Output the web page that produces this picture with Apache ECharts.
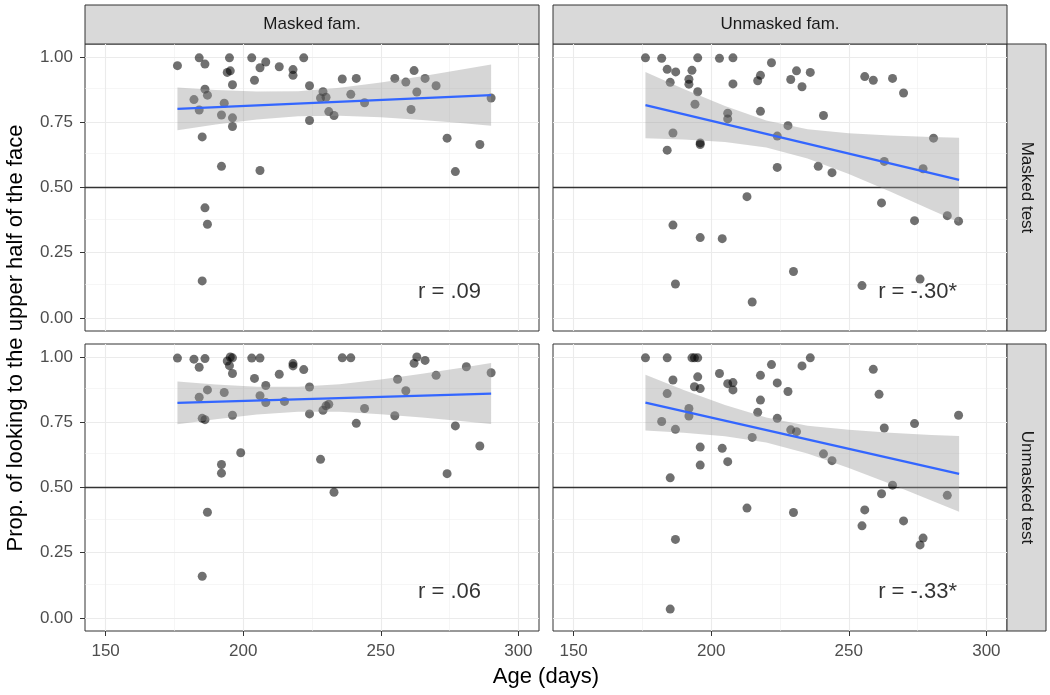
<!DOCTYPE html>
<html><head><meta charset="utf-8">
<script src="https://cdn.jsdelivr.net/npm/echarts@6/dist/echarts.min.js"></script>
<style>html,body{margin:0;padding:0;background:#fff}#c{width:1050px;height:695px}</style>
</head><body><div id="c"></div>
<script>
// ---- facets / axes ----
const colFacets = ['Masked fam.', 'Unmasked fam.'];
const rowFacets = ['Masked test', 'Unmasked test'];
const xTicks = [150, 200, 250, 300];
const xMinor = [175, 225, 275];
const yTicks = [0, 0.25, 0.5, 0.75, 1];
const yMinor = [0.125, 0.375, 0.625, 0.875];
const refLine = 0.5;
const xTitle = 'Age (days)';
const yTitle = 'Prop. of looking to the upper half of the face';
const rLabels = ['r = .09', 'r = -.30*', 'r = .06', 'r = -.33*'];

// ---- panel 1: Masked fam. / Masked test ----
const mfMtAge = [176.1,184.0,186.1,195.0,194.2,195.3,196.1,186.1,187.0,182.1,184.0,193.1,192.1,196.1,196.1,185.1,192.1,206.1,186.1,187.0,185.1,203.1,208.2,206.1,204.1,213.1,218.1,218.1,222.0,224.1,224.1,229.0,228.1,230.1,231.1,233.0,236.0,239.1,241.1,244.1,255.1,259.1,262.1,263.1,261.0,266.1,270.1,274.1,277.1,286.0,290.1];
const mfMtProp = [0.967,0.997,0.973,0.997,0.941,0.947,0.894,0.877,0.854,0.837,0.797,0.823,0.778,0.767,0.734,0.694,0.581,0.565,0.422,0.359,0.142,0.997,0.981,0.959,0.911,0.963,0.952,0.930,0.997,0.890,0.757,0.867,0.843,0.846,0.791,0.776,0.916,0.857,0.918,0.825,0.918,0.904,0.948,0.866,0.799,0.918,0.890,0.689,0.561,0.665,0.843];
// ---- panel 2: Unmasked fam. / Masked test ----
const ufMtAge = [176.1,182.0,184.0,187.1,185.1,195.1,193.0,191.9,191.9,195.1,194.1,186.1,196.0,196.0,184.0,203.0,207.9,207.9,206.0,206.0,221.9,217.9,216.9,217.9,231.0,236.0,228.9,233.0,240.8,227.9,224.0,224.0,238.9,243.9,213.0,186.1,196.0,204.0,229.9,187.0,214.9,255.8,258.9,265.9,269.9,262.9,261.9,277.0,280.8,273.9,285.8,289.9,254.8,275.9];
const ufMtProp = [0.997,0.995,0.953,0.943,0.903,0.997,0.949,0.915,0.896,0.867,0.819,0.709,0.671,0.665,0.643,0.995,0.997,0.897,0.785,0.763,0.978,0.930,0.909,0.792,0.947,0.941,0.914,0.886,0.776,0.737,0.697,0.577,0.581,0.557,0.465,0.356,0.308,0.304,0.178,0.130,0.061,0.925,0.911,0.918,0.862,0.600,0.441,0.572,0.689,0.373,0.392,0.371,0.124,0.149];
// ---- panel 3: Masked fam. / Unmasked test ----
const mfUtAge = [176.1,182.1,186.1,184.0,194.2,195.3,196.1,195.0,196.1,203.1,206.1,204.1,208.2,213.1,218.1,218.1,222.0,224.1,184.0,187.0,193.1,206.1,208.2,215.0,185.1,186.1,196.1,224.1,229.0,231.1,230.1,236.0,239.1,244.1,241.1,228.1,233.0,199.1,192.1,192.1,187.0,185.1,263.1,262.1,266.1,256.1,259.1,270.1,281.1,290.1,255.1,277.1,286.0,274.1];
const mfUtProp = [0.996,0.992,0.994,0.961,0.985,1.0,0.997,0.967,0.937,0.996,0.996,0.918,0.891,0.934,0.975,0.966,0.952,0.885,0.846,0.874,0.864,0.852,0.826,0.830,0.765,0.760,0.777,0.782,0.796,0.819,0.813,0.997,0.997,0.803,0.746,0.608,0.482,0.633,0.588,0.555,0.405,0.160,1.0,0.976,0.987,0.915,0.871,0.930,0.963,0.940,0.775,0.736,0.659,0.553];
// ---- panel 4: Unmasked fam. / Unmasked test ----
const ufUtAge = [176.1,184.0,193.0,195.1,193.9,186.1,195.1,193.9,196.0,184.0,191.9,191.9,182.0,187.0,196.0,196.0,185.1,203.0,206.0,207.9,207.9,221.9,233.0,236.0,217.9,224.0,227.9,217.9,216.9,224.0,228.9,231.0,214.9,204.0,206.0,240.8,243.9,213.0,229.9,187.0,185.1,258.9,261.0,262.9,273.9,289.9,265.9,261.9,285.8,255.8,254.8,269.9,277.0,275.9];
const ufUtProp = [0.997,0.997,0.997,0.997,0.997,0.912,0.924,0.886,0.879,0.860,0.803,0.774,0.753,0.723,0.655,0.586,0.537,0.937,0.898,0.902,0.874,0.971,0.966,0.997,0.930,0.901,0.868,0.835,0.788,0.765,0.721,0.714,0.692,0.650,0.599,0.629,0.603,0.421,0.404,0.301,0.034,0.953,0.857,0.728,0.745,0.777,0.509,0.476,0.470,0.414,0.353,0.372,0.306,0.280];

// ---- fitted lines ----
const fitX = [176.1, 290.1];
const mfMtFit = [0.801, 0.854];
const ufMtFit = [0.816, 0.529];
const mfUtFit = [0.824, 0.860];
const ufUtFit = [0.825, 0.552];

// ---- confidence bands ----
const bandX = [176.1, 190, 205, 220, 235, 250, 265, 280, 290.1];
const mfMtLo = [0.719,0.741,0.761,0.773,0.775,0.769,0.759,0.746,0.737];
const mfMtHi = [0.883,0.874,0.868,0.869,0.882,0.902,0.926,0.953,0.971];
const ufMtLo = [0.689,0.684,0.674,0.653,0.611,0.552,0.485,0.414,0.367];
const ufMtHi = [0.943,0.878,0.812,0.757,0.723,0.708,0.699,0.694,0.691];
const mfUtLo = [0.742,0.762,0.780,0.790,0.790,0.781,0.768,0.754,0.743];
const mfUtHi = [0.906,0.895,0.886,0.886,0.896,0.914,0.936,0.960,0.977];
const ufUtLo = [0.718,0.710,0.696,0.672,0.630,0.575,0.514,0.450,0.407];
const ufUtHi = [0.932,0.874,0.816,0.768,0.737,0.721,0.710,0.701,0.697];

// ---- assemble ----
const FONT = '"Liberation Sans", Arial, Helvetica, sans-serif';
const panels = [
  {age: mfMtAge, prop: mfMtProp, fit: mfMtFit, lo: mfMtLo, hi: mfMtHi, col: 0, row: 0},
  {age: ufMtAge, prop: ufMtProp, fit: ufMtFit, lo: ufMtLo, hi: ufMtHi, col: 1, row: 0},
  {age: mfUtAge, prop: mfUtProp, fit: mfUtFit, lo: mfUtLo, hi: mfUtHi, col: 0, row: 1},
  {age: ufUtAge, prop: ufUtProp, fit: ufUtFit, lo: ufUtLo, hi: ufUtHi, col: 1, row: 1}
];
const L = [85, 553], T = [44, 344], W = 454, H = 287;
const grids = [], xAxes = [], yAxes = [], series = [];
panels.forEach((p, i) => {
  grids.push({left: L[p.col], top: T[p.row], width: W, height: H, show: true,
    backgroundColor: '#fff', borderColor: '#333', borderWidth: 1, containLabel: false});
  const bottom = p.row === 1, left = p.col === 0;
  xAxes.push({gridIndex: i, type: 'value', min: 142.5, max: 307.5,
    axisLine: {show: false, onZero: false}, splitLine: {show: false},
    axisTick: {show: bottom, customValues: xTicks, length: 5, lineStyle: {color: '#333', width: 1}},
    axisLabel: {show: bottom, customValues: xTicks, color: '#4D4D4D', fontSize: 17, margin: 12, fontFamily: FONT}});
  yAxes.push({gridIndex: i, type: 'value', min: -0.05, max: 1.05,
    axisLine: {show: false, onZero: false}, splitLine: {show: false},
    axisTick: {show: left, customValues: yTicks, length: 5, lineStyle: {color: '#333', width: 1}},
    axisLabel: {show: left, customValues: yTicks, color: '#4D4D4D', fontSize: 17, margin: 12, fontFamily: FONT,
      formatter: v => Number(v).toFixed(2)}});
  const gl = [];
  xMinor.forEach(v => gl.push({xAxis: v, lineStyle: {color: '#F0F0F0', width: 0.6, type: 'solid'}}));
  yMinor.forEach(v => gl.push({yAxis: v, lineStyle: {color: '#F0F0F0', width: 0.6, type: 'solid'}}));
  xTicks.forEach(v => gl.push({xAxis: v, lineStyle: {color: '#EBEBEB', width: 1.1, type: 'solid'}}));
  yTicks.forEach(v => gl.push({yAxis: v, lineStyle: {color: '#EBEBEB', width: 1.1, type: 'solid'}}));
  gl.push({yAxis: refLine, lineStyle: {color: '#333', width: 1.3, type: 'solid'}});
  series.push({type: 'line', xAxisIndex: i, yAxisIndex: i, data: [], silent: true, z: 0,
    markLine: {silent: true, symbol: ['none', 'none'], label: {show: false}, z: 1, animation: false,
      emphasis: {disabled: true}, data: gl}});
  series.push({type: 'scatter', xAxisIndex: i, yAxisIndex: i, silent: true, z: 2,
    data: p.age.map((a, k) => [a, p.prop[k]]), symbolSize: 9,
    itemStyle: {color: 'rgba(0,0,0,0.7)'}});
  const rows = bandX.map((x, k) => [x, p.lo[k], p.hi[k]]);
  series.push({type: 'custom', xAxisIndex: i, yAxisIndex: i, silent: true, z: 3,
    data: rows, encode: {x: 0, y: [1, 2]},
    renderItem: (params, api) => {
      if (params.dataIndex !== 0) return null;
      const top = rows.map(r => api.coord([r[0], r[2]]));
      const bot = rows.map(r => api.coord([r[0], r[1]])).reverse();
      return {type: 'polygon', shape: {points: top.concat(bot)}, style: {fill: 'rgba(153,153,153,0.4)'}};
    }});
  series.push({type: 'line', xAxisIndex: i, yAxisIndex: i, silent: true, z: 4,
    data: fitX.map((x, k) => [x, p.fit[k]]), symbol: 'none',
    lineStyle: {color: '#3366FF', width: 2.3}});
  series.push({type: 'scatter', xAxisIndex: i, yAxisIndex: i, silent: true, z: 5,
    data: [[275, 0.1]], symbolSize: 0, itemStyle: {color: 'transparent'},
    label: {show: true, position: 'inside', formatter: rLabels[i], fontSize: 22, color: '#000', fontFamily: FONT}});
});

const graphics = [];
colFacets.forEach((t, c) => {
  graphics.push({type: 'rect', shape: {x: L[c], y: 5, width: W, height: 39},
    style: {fill: '#D9D9D9', stroke: '#333', lineWidth: 1}, silent: true});
  graphics.push({type: 'text', x: L[c] + W / 2, y: 24.5, silent: true,
    style: {text: t, align: 'center', verticalAlign: 'middle', fill: '#1A1A1A', fontSize: 17, fontFamily: FONT}});
});
rowFacets.forEach((t, r) => {
  graphics.push({type: 'rect', shape: {x: 1007, y: T[r], width: 39, height: H},
    style: {fill: '#D9D9D9', stroke: '#333', lineWidth: 1}, silent: true});
  graphics.push({type: 'text', x: 1026.5, y: T[r] + H / 2, rotation: -Math.PI / 2, silent: true,
    style: {text: t, align: 'center', verticalAlign: 'middle', fill: '#1A1A1A', fontSize: 17, fontFamily: FONT}});
});
graphics.push({type: 'text', x: 546, y: 677, silent: true,
  style: {text: xTitle, align: 'center', verticalAlign: 'middle', fill: '#000', fontSize: 22, fontFamily: FONT}});
graphics.push({type: 'text', x: 16, y: 338, rotation: Math.PI / 2, silent: true,
  style: {text: yTitle, align: 'center', verticalAlign: 'middle', fill: '#000', fontSize: 22, fontFamily: FONT}});

const chart = echarts.init(document.getElementById('c'), null, {renderer: 'canvas'});
chart.setOption({animation: false, backgroundColor: '#fff', grid: grids, xAxis: xAxes, yAxis: yAxes,
  series: series, graphic: graphics});
</script></body></html>
